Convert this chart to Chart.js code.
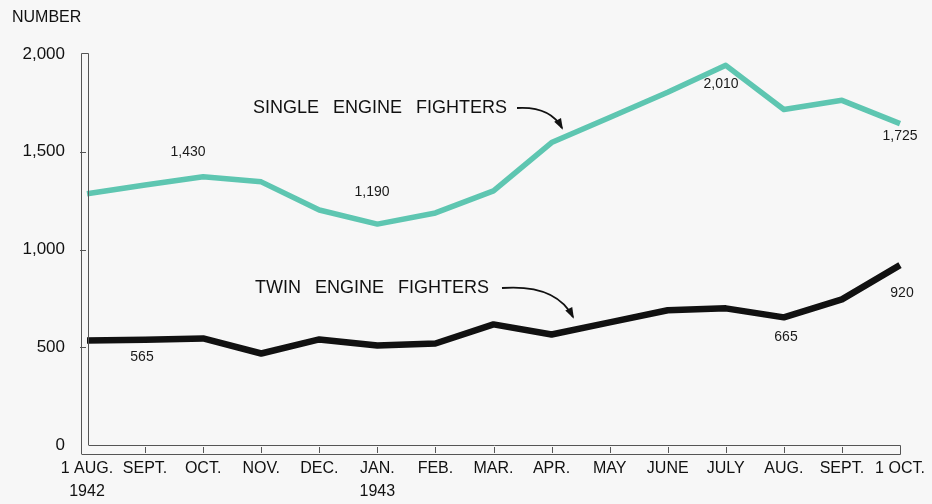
<!DOCTYPE html>
<html>
<head>
<meta charset="utf-8">
<script src="https://cdn.jsdelivr.net/npm/chart.js@4.4.0/dist/chart.umd.min.js"></script>
<style>
  html, body { margin: 0; padding: 0; background: #f7f7f7; }
  #wrap { width: 932px; height: 504px; }
</style>
</head>
<body>
<div id="wrap"><canvas id="fighters"></canvas></div>
<script>
const months = [['1 AUG.', '1942'], 'SEPT.', 'OCT.', 'NOV.', 'DEC.', ['JAN.', '1943'], 'FEB.', 'MAR.', 'APR.', 'MAY', 'JUNE', 'JULY', 'AUG.', 'SEPT.', '1 OCT.'];
const singleEngine = [1285, 1330, 1372, 1346, 1202, 1130, 1187, 1300, 1547, 1675, 1804, 1942, 1716, 1763, 1644];
const twinEngine = [534, 538, 545, 468, 540, 509, 519, 617, 565, 627, 689, 699, 653, 745, 920];
const yTicks = [0, 500, 1000, 1500, 2000];

// printed value notes and series names
const notes = [
    { text: '1,430', x: 188, y: 152 },
    { text: '1,190', x: 372, y: 192 },
    { text: '2,010', x: 721, y: 84 },
    { text: '1,725', x: 900, y: 136 },
    { text: '565', x: 142, y: 357 },
    { text: '665', x: 786, y: 337 },
    { text: '920', x: 902, y: 293 }
];
const names = [
    { text: 'SINGLE ENGINE FIGHTERS', x: 253, y: 108, arrow: [517, 108, 550, 106, 562, 128] },
    { text: 'TWIN ENGINE FIGHTERS', x: 255, y: 288, arrow: [502, 288, 556, 284, 573, 317] }
];

const FONT = '"Liberation Sans", Arial, sans-serif';

function spacedText(ctx, text, x, y, gap) {
    let cx = x;
    text.split(' ').forEach(w => {
        ctx.fillText(w, cx, y);
        cx += ctx.measureText(w).width + gap;
    });
}

const decor = {
    id: 'decor',
    beforeDraw(chart) {
        const ctx = chart.ctx;
        ctx.save();
        ctx.fillStyle = '#f7f7f7';
        ctx.fillRect(0, 0, chart.width, chart.height);
        ctx.restore();
    },
    afterDatasetsDraw(chart) {
        const ctx = chart.ctx;
        const x = chart.scales.x, y = chart.scales.y;
        const left = x.getPixelForValue(0), right = x.getPixelForValue(months.length - 1);
        const top = y.getPixelForValue(2000), zero = y.getPixelForValue(0);
        ctx.save();
        ctx.strokeStyle = '#555';
        ctx.lineWidth = 1;
        // hollow y axis
        ctx.beginPath();
        ctx.moveTo(left - 5.5, zero + 9);
        ctx.lineTo(left - 5.5, top - 0.5);
        ctx.lineTo(left + 1.5, top - 0.5);
        ctx.lineTo(left + 1.5, zero);
        ctx.stroke();
        yTicks.slice(1, -1).forEach(v => {
            const py = Math.round(y.getPixelForValue(v)) + 0.5;
            ctx.beginPath();
            ctx.moveTo(left - 7, py);
            ctx.lineTo(left - 1, py);
            ctx.stroke();
        });
        // hollow x axis
        ctx.beginPath();
        ctx.moveTo(left + 1.5, zero + 0.5);
        ctx.lineTo(right + 0.5, zero + 0.5);
        ctx.lineTo(right + 0.5, zero + 9.5);
        ctx.lineTo(left - 5.5, zero + 9.5);
        ctx.stroke();
        months.forEach((m, i) => {
            if (i === 0 || i === months.length - 1) return;
            const px = Math.round(x.getPixelForValue(i)) + 0.5;
            ctx.beginPath();
            ctx.moveTo(px, zero + 2);
            ctx.lineTo(px, zero + 8);
            ctx.stroke();
        });
        // value notes
        ctx.fillStyle = '#1a1a1a';
        ctx.textAlign = 'center';
        ctx.textBaseline = 'middle';
        ctx.font = '14px ' + FONT;
        notes.forEach(n => ctx.fillText(n.text, n.x, n.y));
        // series names with arrows
        ctx.textAlign = 'left';
        ctx.font = '18px ' + FONT;
        ctx.strokeStyle = '#111';
        ctx.lineWidth = 1.8;
        names.forEach(n => {
            ctx.fillStyle = '#111';
            spacedText(ctx, n.text, n.x, n.y, 14);
            const a = n.arrow;
            ctx.beginPath();
            ctx.moveTo(a[0], a[1]);
            ctx.quadraticCurveTo(a[2], a[3], a[4], a[5]);
            ctx.stroke();
            const ang = Math.atan2(a[5] - a[3], a[4] - a[2]);
            ctx.beginPath();
            ctx.moveTo(a[4] + 2 * Math.cos(ang), a[5] + 2 * Math.sin(ang));
            ctx.lineTo(a[4] - 10 * Math.cos(ang - 0.4), a[5] - 10 * Math.sin(ang - 0.4));
            ctx.lineTo(a[4] - 10 * Math.cos(ang + 0.4), a[5] - 10 * Math.sin(ang + 0.4));
            ctx.closePath();
            ctx.fill();
        });
        ctx.restore();
    }
};

new Chart(document.getElementById('fighters'), {
    type: 'line',
    data: {
        labels: months,
        datasets: [{
            label: 'Single engine fighters',
            data: singleEngine,
            borderColor: '#5ec6b1',
            borderWidth: 5.5,
            pointRadius: 0,
            tension: 0,
            borderJoinStyle: 'round'
        }, {
            label: 'Twin engine fighters',
            data: twinEngine,
            borderColor: '#111111',
            borderWidth: 6.5,
            pointRadius: 0,
            tension: 0,
            borderJoinStyle: 'round'
        }]
    },
    options: {
        responsive: true,
        maintainAspectRatio: false,
        animation: false,
        layout: { padding: { top: 54, right: 32, left: 0, bottom: 0 } },
        plugins: {
            legend: { display: false },
            tooltip: { enabled: false }
        },
        scales: {
            x: {
                offset: false,
                grid: { display: false, drawTicks: false },
                border: { display: false },
                afterFit: (scale) => {
                    scale.height = 59;
                    scale.paddingLeft = 0;
                    scale.paddingRight = 0;
                },
                ticks: {
                    autoSkip: false,
                    maxRotation: 0,
                    padding: 12,
                    color: '#111',
                    font: { family: FONT, size: 16, lineHeight: 1.45 }
                }
            },
            y: {
                min: 0,
                max: 2000,
                grid: { display: false, drawTicks: false },
                border: { display: false },
                afterFit: (scale) => { scale.width = 87; },
                afterBuildTicks: (scale) => { scale.ticks = yTicks.map(v => ({ value: v })); },
                ticks: {
                    padding: 22,
                    color: '#111',
                    font: { family: FONT, size: 17 },
                    callback: (v) => v.toLocaleString('en-US')
                }
            }
        }
    },
    plugins: [decor, {
        id: 'title',
        afterDraw(chart) {
            const ctx = chart.ctx;
            ctx.save();
            ctx.fillStyle = '#111';
            ctx.font = '16px ' + FONT;
            ctx.textBaseline = 'middle';
            ctx.fillText('NUMBER', 12, 18);
            ctx.restore();
        }
    }]
});
</script>
</body>
</html>
